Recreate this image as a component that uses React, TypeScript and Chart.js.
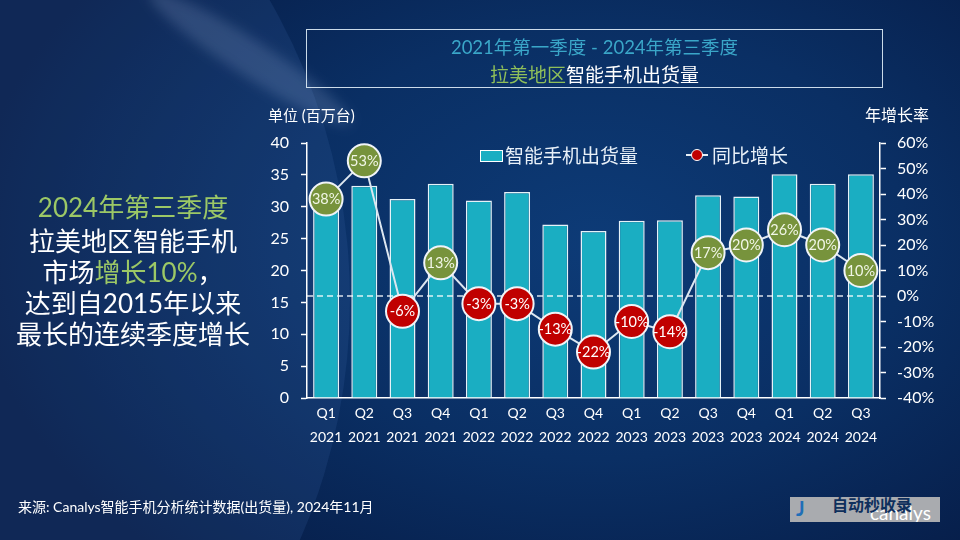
import React, { useEffect, useRef } from "react";
import { Chart, registerables } from "chart.js";

Chart.register(...registerables);

// ---- data ----
const quarters = ["Q1", "Q2", "Q3", "Q4", "Q1", "Q2", "Q3", "Q4", "Q1", "Q2", "Q3", "Q4", "Q1", "Q2", "Q3"];
const years = ["2021", "2021", "2021", "2021", "2022", "2022", "2022", "2022", "2023", "2023", "2023", "2023", "2024", "2024", "2024"];
const shipments = [32.0, 33.3, 31.2, 33.6, 31.0, 32.3, 27.2, 26.2, 27.8, 27.9, 31.8, 31.6, 35.1, 33.6, 35.1];
const growth = [38, 53, -6, 13, -3, -3, -13, -22, -10, -14, 17, 20, 26, 20, 10];
const leftAxisRange = [0, 40];
const leftAxisStep = 5;
const rightAxisRange = [-40, 60];
const rightAxisStep = 10;
const barLegend = "智能手机出货量";
const lineLegend = "同比增长";
const titleLine1 = "2021年第一季度 - 2024年第三季度";
const titleGreen = "拉美地区";
const titleWhite = "智能手机出货量";
const leftUnit = "单位 (百万台)";
const rightUnit = "年增长率";
const source = "来源: Canalys智能手机分析统计数据(出货量), 2024年11月";

const FONT = "Lato, 'Noto Sans CJK SC', sans-serif";
const CJK = "'Noto Sans CJK SC', Lato, sans-serif";
const BAR = "#1AAEC2";
const GREEN_PT = "#77933C";
const RED_PT = "#C00000";
const GREEN_TXT = "#9CC866";

function ChartCanvas() {
  const ref = useRef<HTMLCanvasElement | null>(null);
  useEffect(() => {
    if (!ref.current) return;
    const overlay = {
      id: "overlay",
      afterDatasetDraw(chart: any, args: any) {
        if (args.index !== 0) return;
        const { ctx, chartArea } = chart;
        const y = chart.scales.y1.getPixelForValue(0);
        ctx.save();
        ctx.setLineDash([6, 4]);
        ctx.strokeStyle = "rgba(255,255,255,0.85)";
        ctx.lineWidth = 1.5;
        ctx.beginPath();
        ctx.moveTo(chartArea.left, y);
        ctx.lineTo(chartArea.right, y);
        ctx.stroke();
        ctx.restore();
      },
      afterDatasetsDraw(chart: any) {
        const { ctx } = chart;
        const meta = chart.getDatasetMeta(1);
        ctx.save();
        ctx.font = `14.5px ${FONT}`;
        ctx.textAlign = "center";
        ctx.textBaseline = "middle";
        meta.data.forEach((pt: any, i: number) => {
          ctx.fillStyle = growth[i] >= 0 ? "#F1F6E6" : "#FFFFFF";
          ctx.fillText(`${growth[i]}%`, pt.x, pt.y + 0.5);
        });
        ctx.restore();
      },
    };
    const chart = new Chart(ref.current, {
      type: "bar",
      data: {
        labels: quarters.map((q, i) => [q, years[i]]),
        datasets: [
          {
            type: "bar",
            label: barLegend,
            data: shipments,
            yAxisID: "y",
            backgroundColor: BAR,
            borderColor: "#E6F2F8",
            borderWidth: 1.5,
            barPercentage: 0.68,
            categoryPercentage: 1,
            order: 2,
          },
          {
            type: "line",
            label: lineLegend,
            data: growth,
            yAxisID: "y1",
            borderColor: "#DCE6F0",
            borderWidth: 2,
            pointRadius: 16.5,
            pointBackgroundColor: growth.map((g) => (g >= 0 ? GREEN_PT : RED_PT)),
            pointBorderColor: "#F0F4F8",
            pointBorderWidth: 2,
            tension: 0,
            order: 1,
          } as any,
        ],
      },
      options: {
        responsive: false,
        animation: false,
        layout: { padding: { top: 143, left: 0, right: 0, bottom: 0 } },
        plugins: { legend: { display: false }, tooltip: { enabled: false } },
        scales: {
          x: {
            offset: true,
            grid: { display: true, drawOnChartArea: false, drawTicks: false },
            border: { color: "#FFFFFF", width: 1.5 },
            ticks: {
              color: "#FFFFFF",
              font: { size: 14, family: FONT, lineHeight: 1.75 },
              padding: 3,
              maxRotation: 0,
              autoSkip: false,
            },
            afterFit: (s: any) => {
              s.height = 142;
            },
          },
          y: {
            position: "left",
            min: leftAxisRange[0],
            max: leftAxisRange[1],
            ticks: { stepSize: leftAxisStep, color: "#FFFFFF", font: { size: 16, family: FONT }, padding: 12 },
            grid: { drawOnChartArea: false, tickLength: 6, tickColor: "#FFFFFF", tickWidth: 1.5 },
            border: { color: "#FFFFFF", width: 1.5 },
            afterFit: (s: any) => {
              s.width = 307;
            },
          },
          y1: {
            position: "right",
            min: rightAxisRange[0],
            max: rightAxisRange[1],
            ticks: {
              stepSize: rightAxisStep,
              color: "#FFFFFF",
              font: { size: 16, family: FONT },
              padding: 11,
              callback: (v: any) => `${v}%`,
            },
            grid: { drawOnChartArea: false, tickLength: 6, tickColor: "#FFFFFF", tickWidth: 1.5 },
            border: { color: "#FFFFFF", width: 1.5 },
            afterFit: (s: any) => {
              s.width = 80;
            },
          },
        },
      } as any,
      plugins: [overlay],
    });
    return () => chart.destroy();
  }, []);
  return (
    <canvas
      ref={ref}
      width={960}
      height={540}
      style={{ position: "absolute", left: 0, top: 0, width: 960, height: 540 }}
    />
  );
}

function Txt(props: {
  x?: number;
  w?: number;
  cy: number;
  size: number;
  color?: string;
  align?: "left" | "center" | "right";
  family?: string;
  weight?: number;
  children: React.ReactNode;
}) {
  const lh = Math.round(props.size * 1.4);
  return (
    <div
      style={{
        position: "absolute",
        left: props.x ?? 0,
        width: props.w,
        top: props.cy - lh / 2,
        height: lh,
        lineHeight: `${lh}px`,
        fontSize: props.size,
        fontWeight: props.weight ?? 400,
        color: props.color ?? "#FFFFFF",
        textAlign: props.align ?? "left",
        fontFamily: props.family ?? FONT,
        whiteSpace: "nowrap",
      }}
    >
      {props.children}
    </div>
  );
}

export default function App() {
  return (
    <div
      style={{
        position: "absolute",
        left: 0,
        top: 0,
        width: 960,
        height: 540,
        overflow: "hidden",
        background:
          "radial-gradient(ellipse 65% 80% at 62% 45%, #0D3B77 0%, #0A2F64 50%, #061B45 100%)",
      }}
    >
      <div
        style={{
          position: "absolute",
          left: -850,
          top: -300,
          width: 1200,
          height: 1200,
          borderRadius: "50%",
          background: "rgba(70,110,180,0.16)",
        }}
      />
      <div
        style={{
          position: "absolute",
          left: 130,
          top: 40,
          width: 240,
          height: 36,
          borderRadius: "50%",
          background: "rgba(200,220,255,0.16)",
          transform: "rotate(33deg)",
          filter: "blur(6px)",
        }}
      />
      <ChartCanvas />

      {/* title box */}
      <div
        style={{
          position: "absolute",
          left: 306,
          top: 29,
          width: 575,
          height: 57,
          border: "1px solid rgba(225,238,248,0.9)",
        }}
      />
      <Txt x={306} w={577} cy={47} size={18.5} color="#3AA6C8" align="center">
        {titleLine1}
      </Txt>
      <Txt x={306} w={577} cy={73} size={19} align="center" family={CJK}>
        <span style={{ color: "#8FBF5A" }}>{titleGreen}</span>
        <span>{titleWhite}</span>
      </Txt>

      {/* left commentary */}
      <Txt x={0} w={266} cy={207} size={26} color={GREEN_TXT} align="center">
        2024年第三季度
      </Txt>
      <Txt x={0} w={266} cy={241} size={26} align="center">
        拉美地区智能手机
      </Txt>
      <Txt x={0} w={266} cy={272} size={26} align="center">
        市场<span style={{ color: GREEN_TXT }}>增长10%</span>，
      </Txt>
      <Txt x={0} w={266} cy={303} size={26} align="center">
        达到自2015年以来
      </Txt>
      <Txt x={0} w={266} cy={334} size={26} align="center">
        最长的连续季度增长
      </Txt>

      {/* axis units */}
      <Txt x={268} cy={115} size={15}>
        {leftUnit}
      </Txt>
      <Txt x={865} cy={115} size={16}>
        {rightUnit}
      </Txt>

      {/* legend */}
      <div
        style={{
          position: "absolute",
          left: 480,
          top: 150,
          width: 21,
          height: 10,
          background: BAR,
          border: "1px solid #FFFFFF",
        }}
      />
      <Txt x={505} cy={155} size={19} color="#E8F0F8">
        {barLegend}
      </Txt>
      <div style={{ position: "absolute", left: 686, top: 154, width: 22, height: 2, background: "#E6EEF6" }} />
      <div
        style={{
          position: "absolute",
          left: 691,
          top: 149,
          width: 10,
          height: 10,
          borderRadius: "50%",
          background: RED_PT,
          border: "1.5px solid #FFFFFF",
        }}
      />
      <Txt x={712} cy={155} size={19} color="#E8F0F8">
        {lineLegend}
      </Txt>

      {/* source */}
      <Txt x={18} cy={507} size={14}>
        {source}
      </Txt>

      {/* watermark */}
      <div
        style={{
          position: "absolute",
          left: 790,
          top: 497,
          width: 150,
          height: 25,
          background: "#A9ABAF",
          overflow: "hidden",
        }}
      >
        <Txt x={6} cy={11} size={20} color="#1F6FB8" weight={700}>
          J
        </Txt>
        <Txt x={80} cy={15} size={19} color="#FFFFFF">
          canalys
        </Txt>
        <Txt x={42} cy={8} size={16} color="#0E2F5C" weight={700}>
          自动秒收录
        </Txt>
      </div>
    </div>
  );
}
